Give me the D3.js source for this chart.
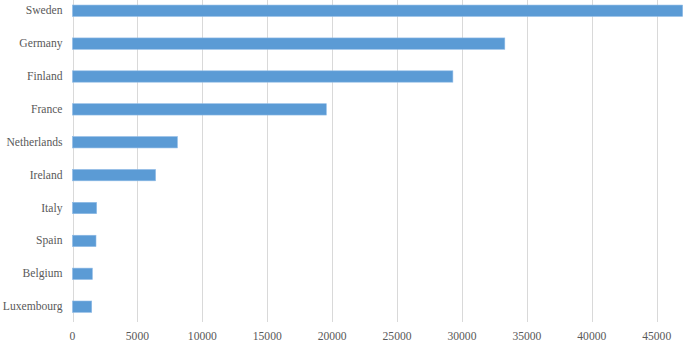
<!DOCTYPE html>
<html><head><meta charset="utf-8">
<script src="https://cdn.jsdelivr.net/npm/d3@7"></script>
<style>html,body{margin:0;padding:0;background:#fff;}svg{display:block;}</style>
</head><body>
<svg id="c" width="685" height="342"></svg>
<script>
const categories = ["Sweden","Germany","Finland","France","Netherlands","Ireland","Italy","Spain","Belgium","Luxembourg"];
const values = [47000, 33300, 29300, 19550, 8080, 6400, 1860, 1810, 1530, 1480];
const xTicks = [0,5000,10000,15000,20000,25000,30000,35000,40000,45000];

const svg = d3.select("#c");
const x = d3.scaleLinear().domain([0,45000]).range([72.5,656.7]);
const y = d3.scaleBand().domain(categories).range([-5.8,323.2]).paddingInner(0.655).paddingOuter(0.33);
const fontStyle = "font-family:'Liberation Serif';font-size:11.6px";

svg.append("g").selectAll("line").data(xTicks).join("line")
  .attr("x1",d=>Math.round(x(d))+0.5).attr("x2",d=>Math.round(x(d))+0.5)
  .attr("y1",0).attr("y2",322)
  .attr("stroke","#d9d9d9").attr("stroke-width",1);

svg.append("g").selectAll("rect").data(values).join("rect")
  .attr("x",x(0)).attr("y",(d,i)=>y(categories[i]))
  .attr("width",d=>x(d)-x(0)).attr("height",y.bandwidth())
  .attr("fill","#5b9bd5").attr("stroke","#8fbbe6").attr("stroke-width",0.6);

svg.append("g").selectAll("text").data(categories).join("text")
  .attr("x",62.5).attr("y",d=>y(d)+y.bandwidth()/2)
  .attr("text-anchor","end").attr("dominant-baseline","central")
  .attr("style",fontStyle).attr("fill","#595959")
  .text(d=>d);

svg.append("g").selectAll("text").data(xTicks).join("text")
  .attr("x",d=>x(d)).attr("y",336)
  .attr("text-anchor","middle").attr("dominant-baseline","central")
  .attr("style",fontStyle).attr("fill","#595959")
  .text(d=>d);
</script>
</body></html>
